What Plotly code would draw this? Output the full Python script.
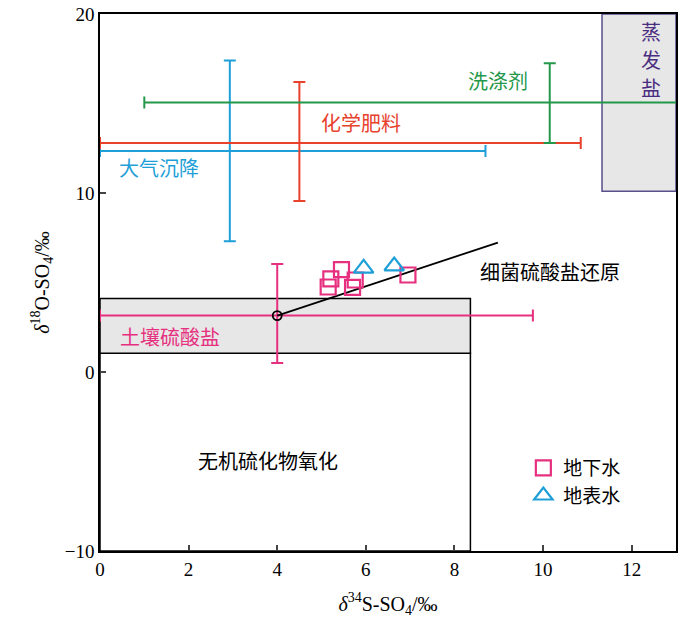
import plotly.graph_objects as go

# ---- source end-member ranges (centre, x-range, y-range) ----
src_names = ["大气沉降", "化学肥料", "洗涤剂", "土壤硫酸盐"]
src_cx = [2.93, 4.5, 10.15, 4.0]
src_cy = [12.35, 12.8, 15.05, 3.15]
src_xmin = [0.0, 0.0, 1.0, 0.0]
src_xmax = [8.7, 10.85, 14.0, 9.77]
src_ymin = [7.3, 9.55, 12.8, 0.5]
src_ymax = [17.4, 16.2, 17.25, 6.03]
src_colors = ["#1e9fd8", "#e8412c", "#24984a", "#e6307f"]

# label positions for sources
lab_x = [1.33, 5.89, 8.99, 1.58]
lab_y = [11.42, 13.94, 16.3, 1.96]

# ---- samples ----
gw_x = [5.15, 5.21, 5.45, 5.70, 5.76, 6.95]
gw_y = [4.75, 5.20, 5.72, 4.73, 5.14, 5.42]
sw_x = [5.95, 6.64]
sw_y = [5.79, 5.92]

# ---- regions ----
soil_box = [0.0, 8.36, 1.05, 4.1]     # x0, x1, y0, y1
inorg_box = [0.0, 8.36, -10.0, 1.05]
evap_box = [11.33, 13.0, 10.1, 20.0]
evap_chars = ["蒸", "发", "盐"]
evap_char_y = [19.0, 17.45, 15.9]

# bacterial sulfate reduction trend line
bsr_x = [4.0, 8.98]
bsr_y = [3.15, 7.23]

x_ticks = [0, 2, 4, 6, 8, 10, 12]
y_ticks = [-10, 0, 10, 20]

CJK = "Noto Sans CJK SC"
SERIF = "Liberation Serif"

fig = go.Figure()

# region shapes
fig.add_shape(type="rect", x0=evap_box[0], x1=evap_box[1], y0=evap_box[2], y1=evap_box[3],
              fillcolor="#e7e7e7", line=dict(color="#5b4e8c", width=1.5), layer="below")
fig.add_shape(type="rect", x0=inorg_box[0], x1=inorg_box[1], y0=inorg_box[2], y1=inorg_box[3],
              fillcolor="rgba(0,0,0,0)", line=dict(color="black", width=1.5), layer="below")
fig.add_shape(type="rect", x0=soil_box[0], x1=soil_box[1], y0=soil_box[2], y1=soil_box[3],
              fillcolor="#e7e7e7", line=dict(color="black", width=1.5), layer="below")

# source ranges as error bars
for i in range(len(src_names)):
    fig.add_trace(go.Scatter(
        x=[src_cx[i]], y=[src_cy[i]], mode="markers",
        marker=dict(size=1, color=src_colors[i]),
        error_x=dict(type="data", symmetric=False,
                     array=[src_xmax[i] - src_cx[i]], arrayminus=[src_cx[i] - src_xmin[i]],
                     color=src_colors[i], thickness=2, width=6),
        error_y=dict(type="data", symmetric=False,
                     array=[src_ymax[i] - src_cy[i]], arrayminus=[src_cy[i] - src_ymin[i]],
                     color=src_colors[i], thickness=2, width=6),
        showlegend=False, hoverinfo="skip"))
    fig.add_annotation(x=lab_x[i], y=lab_y[i], text=src_names[i], showarrow=False,
                       font=dict(family=CJK, size=20, color=src_colors[i]))

# BSR line
fig.add_trace(go.Scatter(x=bsr_x, y=bsr_y, mode="lines",
                         line=dict(color="black", width=1.8), showlegend=False))
# soil centre circle
fig.add_trace(go.Scatter(x=[bsr_x[0]], y=[bsr_y[0]], mode="markers",
                         marker=dict(symbol="circle-open", size=9, color="black",
                                     line=dict(width=1.8, color="black")),
                         showlegend=False))

# samples
fig.add_trace(go.Scatter(x=gw_x, y=gw_y, mode="markers", name="地下水",
                         marker=dict(symbol="square-open", size=15, color="#e6307f",
                                     line=dict(width=2.2, color="#e6307f"))))
fig.add_trace(go.Scatter(x=sw_x, y=sw_y, mode="markers", name="地表水",
                         marker=dict(symbol="triangle-up-open", size=17, color="#1e9fd8",
                                     line=dict(width=2.2, color="#1e9fd8"))))

# region labels
fig.add_annotation(x=3.79, y=-4.97, text="无机硫化物氧化", showarrow=False,
                   font=dict(family=CJK, size=20, color="black"))
fig.add_annotation(x=10.16, y=5.59, text="细菌硫酸盐还原", showarrow=False,
                   font=dict(family=CJK, size=20, color="black"))
for ch, cy in zip(evap_chars, evap_char_y):
    fig.add_annotation(x=12.44, y=cy, text=ch, showarrow=False,
                       font=dict(family=CJK, size=20, color="#4a2d80"))

fig.update_layout(
    width=700, height=621,
    margin=dict(l=100, r=24, t=14, b=70),
    paper_bgcolor="white", plot_bgcolor="white",
    font=dict(family=SERIF, size=19, color="black"),
    legend=dict(x=0.735, y=0.19, xanchor="left", yanchor="top",
                bgcolor="rgba(0,0,0,0)", font=dict(family=CJK, size=19),
                tracegroupgap=2),
)
fig.update_xaxes(range=[0, 13], tickvals=x_ticks, ticks="inside", ticklen=6, tickwidth=1.5,
                 showline=True, linecolor="black", linewidth=1.5, mirror=True,
                 showgrid=False, zeroline=False, automargin=False,
                 ticklabeloverflow="allow",
                 tickfont=dict(family=SERIF, size=19),
                 title=dict(text="<i>δ</i><sup>34</sup>S-SO<sub>4</sub>/‰",
                            font=dict(family=SERIF, size=20), standoff=18))
fig.update_yaxes(range=[-10, 20], tickvals=y_ticks, ticks="inside", ticklen=6, tickwidth=1.5,
                 showline=True, linecolor="black", linewidth=1.5, mirror=True,
                 showgrid=False, zeroline=False, automargin=False,
                 ticklabeloverflow="allow",
                 tickfont=dict(family=SERIF, size=19),
                 title=dict(text="<i>δ</i><sup>18</sup>O-SO<sub>4</sub>/‰",
                            font=dict(family=SERIF, size=20), standoff=10))

fig.write_html("out.html", config={"displayModeBar": False},
               post_script="document.body.style.margin='0';")
